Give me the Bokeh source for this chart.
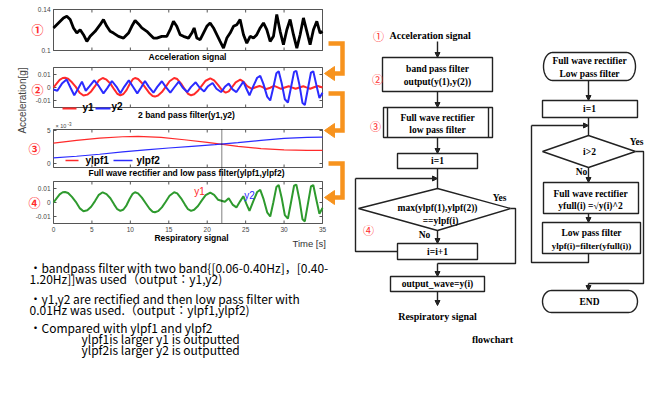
import numpy as np
from bokeh.plotting import figure
from bokeh.models import Range1d, Arrow, NormalHead
from bokeh.core.properties import value
from bokeh.embed import file_html
from bokeh.resources import INLINE

# ---------------- data ----------------
acc_t = [0.0, 0.65, 1.30, 1.73, 2.17, 2.60, 3.04, 3.47, 3.90, 4.34, 4.77, 5.42, 6.07, 6.50, 6.94,
         7.37, 7.81, 8.46, 9.11, 9.76, 10.19, 10.62, 11.06, 11.49, 12.14, 12.58, 13.01, 13.44,
         14.09, 14.74, 15.18, 15.61, 16.04, 16.48, 16.91, 17.56, 18.0, 18.3, 18.65, 19.08, 19.51,
         19.95, 20.38, 20.82, 21.25, 21.68, 22.12, 22.55, 22.98, 23.42, 23.85, 24.28, 24.72, 25.15,
         25.59, 26.02, 26.45, 26.89, 27.32, 27.75, 28.19, 28.62, 29.05, 29.49, 29.92, 30.36, 30.79,
         31.22, 31.66, 32.09, 32.52, 32.96, 33.39, 33.82, 34.26, 34.69, 35.0]
acc_v = [0.1220, 0.1269, 0.1318, 0.1334, 0.1302, 0.1220, 0.1170, 0.1203, 0.1154, 0.1089, 0.1138,
         0.1187, 0.1252, 0.1302, 0.1236, 0.1187, 0.1170, 0.1138, 0.1121, 0.1170, 0.1236, 0.1292,
         0.1259, 0.1220, 0.1187, 0.1154, 0.1121, 0.1121, 0.1138, 0.1138, 0.1203, 0.1285, 0.1236,
         0.1154, 0.1138, 0.1121, 0.1170, 0.1220, 0.1121, 0.1105, 0.1170, 0.1236, 0.1269, 0.1220,
         0.1154, 0.1089, 0.1023, 0.1121, 0.1170, 0.1236, 0.1252, 0.1302, 0.1154, 0.1072, 0.1138,
         0.1121, 0.1154, 0.1220, 0.1269, 0.1203, 0.1089, 0.1138, 0.1351, 0.1187, 0.1056, 0.1203,
         0.1302, 0.1154, 0.1023, 0.1154, 0.1318, 0.1187, 0.1056, 0.1203, 0.1285, 0.1170, 0.1187]

y1_t = [0.0, 0.4, 0.8, 1.2, 1.5, 1.9, 2.4, 2.9, 3.4, 3.9, 4.4, 4.9, 5.4, 5.9, 6.4, 6.9, 7.4, 7.9,
        8.3, 8.7, 9.1, 9.5, 9.9, 10.3, 10.6, 11.0, 11.5, 12.0, 12.5, 12.9, 13.2, 13.6, 14.1, 14.6,
        15.1, 15.7, 16.1, 16.6, 17.1, 17.5, 17.9, 18.3, 18.8, 19.3, 19.8, 20.4, 20.9, 21.4, 21.9,
        22.4, 22.8, 23.2, 23.7, 24.3, 24.7, 25.2, 25.8, 26.3, 26.8, 27.2, 27.7, 28.2, 28.7, 29.1,
        29.6, 30.1, 30.6, 31.0, 31.5, 32.0, 32.5, 32.9, 33.4, 33.9, 34.4, 35.0]
y1_v = [0.0, 0.0030, 0.0058, 0.0073, 0.0075, 0.0068, 0.0040, 0.0005, -0.0040, -0.0062, -0.0055,
        -0.0030, 0.0010, 0.0055, 0.0073, 0.0060, 0.0030, -0.0015, -0.0048, -0.0060, -0.0050,
        -0.0020, 0.0025, 0.0062, 0.0073, 0.0065, 0.0035, -0.0005, -0.0045, -0.0066, -0.0070,
        -0.0062, -0.0035, 0.0005, 0.0048, 0.0073, 0.0065, 0.0030, -0.0015, -0.0048, -0.0060,
        -0.0052, -0.0025, 0.0015, 0.0052, 0.0070, 0.0055, 0.0020, -0.0018, -0.0040, -0.0030,
        0.0000, 0.0040, 0.0060, 0.0045, 0.0010, -0.0010, 0.0002, 0.0012, 0.0003, -0.0012,
        -0.0002, 0.0012, 0.0003, -0.0010, 0.0000, 0.0010, 0.0001, -0.0010, 0.0000, 0.0010,
        0.0001, -0.0010, 0.0002, 0.0012, 0.0000]

y2_t = [0.0, 0.5, 1.1, 1.7, 2.2, 2.7, 3.2, 3.7, 4.2, 4.7, 5.3, 5.9, 6.5, 7.0, 7.6, 8.2, 8.7, 9.2,
        9.8, 10.3, 10.9, 11.4, 11.9, 12.4, 13.0, 13.5, 14.1, 14.6, 15.2, 15.7, 16.3, 16.8, 17.4,
        17.9, 18.5, 19.0, 19.6, 20.1, 20.7, 21.2, 21.8, 22.3, 22.8, 23.3, 23.8, 24.3, 24.7, 25.1,
        25.5, 26.0, 26.5, 26.9, 27.3, 27.8, 28.2, 28.6, 29.0, 29.3, 29.7, 30.1, 30.5, 30.9, 31.3,
        31.6, 32.0, 32.4, 32.7, 33.1, 33.5, 33.8, 34.2, 34.6, 35.0]
y2_v = [-0.0015, -0.0025, 0.0030, 0.0062, 0.0000, -0.0060, -0.0010, 0.0045, -0.0025, 0.0010,
        0.0055, 0.0010, -0.0045, -0.0005, 0.0050, 0.0005, -0.0045, 0.0005, 0.0055, 0.0010,
        -0.0045, 0.0000, 0.0050, 0.0005, -0.0040, 0.0005, 0.0048, 0.0005, -0.0040, 0.0000,
        0.0045, 0.0000, -0.0035, 0.0005, 0.0040, 0.0000, -0.0030, 0.0010, 0.0035, -0.0010,
        -0.0035, 0.0005, 0.0030, -0.0015, -0.0035, 0.0010, 0.0045, -0.0010, -0.0060, 0.0010,
        0.0075, 0.0090, 0.0030, -0.0070, -0.0100, 0.0000, 0.0110, 0.0125, 0.0030, -0.0090,
        -0.0115, 0.0000, 0.0120, 0.0128, 0.0020, -0.0120, -0.0135, -0.0010, 0.0115, 0.0125,
        0.0020, -0.0080, -0.0040]

lp1_t = [0, 3, 6, 9, 11, 14, 17, 20, 22, 24, 27, 30, 33, 35]
ylpf1 = [3.1, 3.5, 3.85, 4.05, 4.1, 3.95, 3.6, 3.2, 2.9, 2.6, 2.25, 2.05, 2.0, 2.0]       # x 10^-3
lp2_t = [0, 3, 6, 9, 12, 15, 18, 21, 24, 27, 30, 33, 35]
ylpf2 = [0.85, 1.1, 1.4, 1.75, 2.05, 2.35, 2.6, 2.85, 3.15, 3.5, 3.8, 3.95, 4.0]        # x 10^-3
t_switch = 21.9

time_ticks = [0, 5, 10, 15, 20, 25, 30, 35]
time_labels = ["0", "5", "10", "15", "20", "25", "30", "35"]
acc_ticks, acc_labels = [0.10, 0.14], ["0.1", "0.14"]
bp_ticks, bp_labels = [-0.01, 0.0, 0.01], ["-0.01", "0", "0.01"]
lp_ticks, lp_labels = [0, 5], ["0", "5"]

# respiratory signal = y1 while ylpf1 is larger, y2 afterwards
resp_t = [t for t in y1_t if t < t_switch] + [t for t in y2_t if t >= t_switch]
resp_v = [v for t, v in zip(y1_t, y1_v) if t < t_switch] + [v for t, v in zip(y2_t, y2_v) if t >= t_switch]

# ---------------- figure (page-pixel coordinates) ----------------
PW, PH = 648, 386
p = figure(width=PW, height=PH, x_range=Range1d(0, PW), y_range=Range1d(PH, 0),
           output_backend="svg", toolbar_location=None, min_border=0,
           x_axis_type=None, y_axis_type=None)
p.grid.visible = False
p.outline_line_color = None

SANS = value("Liberation Sans")
SERIF = value("Liberation Serif")
CJK = value("Noto Sans CJK JP")
ORANGE = "#f7931e"
RED = "#ff2a2a"
BLUE = "#2b2bff"


def txt(x, y, s, size="9px", font=SANS, style="normal", color="black", align="center",
        angle=0.0, xr="default", yr="default"):
    xs = x if isinstance(x, list) else [x]
    ys = y if isinstance(y, list) else [y]
    ss = s if isinstance(s, list) else [s]
    p.text(x=xs, y=ys, text=ss, text_font=font, text_font_size=size, text_font_style=style,
           text_color=color, text_align=align, text_baseline="middle", angle=angle,
           x_range_name=xr, y_range_name=yr)


def lin_range(p0, v0, p1, v1, lo, hi):
    s = (v1 - v0) / (p1 - p0)
    return Range1d(start=v0 + (lo - p0) * s, end=v0 + (hi - p0) * s)


X0, X1 = 53, 322
p.extra_x_ranges = {"t": lin_range(X0, 0, X1, 35, 0, PW)}

# name: (frame top, frame bottom, (pix, val), (pix, val), ticks, labels)
panels = {
    "a1": (9, 50, (9, 0.14), (50, 0.10), acc_ticks, acc_labels),
    "a2": (67, 107, (74, 0.01), (100, -0.01), bp_ticks, bp_labels),
    "a3": (129, 167, (130, 5.0), (163, 0.0), lp_ticks, lp_labels),
    "a4": (181, 223, (188, 0.01), (216, -0.01), bp_ticks, bp_labels),
}
p.extra_y_ranges = {k: lin_range(v[2][0], v[2][1], v[3][0], v[3][1], PH, 0) for k, v in panels.items()}

AX = "#555555"
for name, (top, bot, _a, _b, ticks, labels) in panels.items():
    p.quad(left=[X0], right=[X1], top=[top], bottom=[bot], fill_color=None, line_color=AX, line_width=1)
    p.segment(x0=[X0] * len(ticks), x1=[X0 + 3] * len(ticks), y0=ticks, y1=ticks,
              line_color=AX, y_range_name=name)
    p.segment(x0=[X1 - 3] * len(ticks), x1=[X1] * len(ticks), y0=ticks, y1=ticks,
              line_color=AX, y_range_name=name)
    txt([X0 - 3] * len(ticks), ticks, labels, size="6.5px", color="#444444", align="right", yr=name)
    p.segment(x0=time_ticks, x1=time_ticks, y0=[bot] * len(time_ticks), y1=[bot - 3] * len(time_ticks),
              line_color=AX, x_range_name="t")
    p.segment(x0=time_ticks, x1=time_ticks, y0=[top] * len(time_ticks), y1=[top + 3] * len(time_ticks),
              line_color=AX, x_range_name="t")

# signals
p.line(acc_t, acc_v, line_color="black", line_width=2.8, x_range_name="t", y_range_name="a1")
p.line(y1_t, y1_v, line_color=RED, line_width=2, x_range_name="t", y_range_name="a2")
p.line(y2_t, y2_v, line_color=BLUE, line_width=2, x_range_name="t", y_range_name="a2")
p.line(lp1_t, ylpf1, line_color=RED, line_width=1.2, x_range_name="t", y_range_name="a3")
p.line(lp2_t, ylpf2, line_color=BLUE, line_width=1.2, x_range_name="t", y_range_name="a3")
p.line(resp_t, resp_v, line_color="#2e9a2e", line_width=2, x_range_name="t", y_range_name="a4")
p.segment(x0=[t_switch], x1=[t_switch], y0=[129], y1=[223], line_color="black", line_width=1,
          line_dash="1 1", x_range_name="t")

# x tick labels of the bottom panel
txt(time_ticks, [228.5] * len(time_ticks), time_labels, size="6.5px", color="#444444", xr="t")

# panel titles / legends
txt(187, 56, "Acceleration signal", size="8.5px", style="bold")
p.line([62, 76], [108, 108], line_color=RED, line_width=2)
txt(82, 107, "y1", size="10px", style="bold", align="left")
p.line([95, 110], [108, 108], line_color=BLUE, line_width=2)
txt(111, 106, "y2", size="10px", style="bold", align="left")
txt(186, 114, "2 band pass filter(y1,y2)", size="8.5px", style="bold")
p.line([65, 78], [160, 160], line_color=RED, line_width=1.5)
txt(85, 160, "ylpf1", size="10px", style="bold", align="left")
p.line([113, 132], [160, 160], line_color=BLUE, line_width=1.5)
txt(136, 160, "ylpf2", size="10px", style="bold", align="left")
txt(186, 172, "Full wave rectifier and low pass filter(ylpf1,ylpf2)", size="8.5px", style="bold")
txt(55, 125, "× 10", size="5.5px", color="#444444", align="left")
txt(67, 123, "-3", size="4.5px", color="#444444", align="left")
txt(199, 191, "y1", size="10px", color=RED, align="center")
txt(249, 195, "y2", size="10px", color=BLUE, align="center")
txt(191, 237, "Respiratory signal", size="8.5px", style="bold")
txt(310, 243, "Time  [s]", size="9.5px", color="#333333")
txt(22, 100, "Acceleration[g]", size="10px", color="#444444", angle=np.pi / 2)

# circled numbers next to panels
txt([37, 37, 34, 34], [29, 89, 148, 202], ["①", "②", "③", "④"], size="12px", font=CJK,
    style="bold", color=RED)

# orange bracket arrows
for top_y, arr_y in [(43, 73), (93, 130), (163, 197)]:
    p.line([328, 342, 342, 333], [top_y, top_y, arr_y, arr_y], line_color=ORANGE, line_width=4.5,
           line_join="miter")
    p.patch([324, 334, 334], [arr_y, arr_y - 7, arr_y + 7], fill_color=ORANGE, line_color=ORANGE)

# bullet text
B = "12px"
txt(29, 267, "・bandpass filter with two band{[0.06-0.40Hz]，[0.40-", size=B, font=CJK, align="left")
txt(29, 278, "1.20Hz]]was used（output：y1,y2)", size=B, font=CJK, align="left")
txt(29, 298, "・y1,y2 are rectified and then low pass filter with", size=B, font=CJK, align="left")
txt(29, 309, "0.01Hz  was used.（output：ylpf1,ylpf2)", size=B, font=CJK, align="left")
txt(29, 327, "・Compared with ylpf1 and ylpf2", size=B, font=CJK, align="left")
txt(81, 338, "ylpf1is larger y1 is outputted", size=B, font=CJK, align="left")
txt(81, 349, "ylpf2is larger y2 is outputted", size=B, font=CJK, align="left")


# ---------------- flowcharts ----------------
def box(l, r, t, b, lw=1.4):
    p.quad(left=[l], right=[r], top=[t], bottom=[b], fill_color="white", line_color="#222222",
           line_width=lw)


def arrow(x0, y0, x1, y1):
    p.add_layout(Arrow(end=NormalHead(size=5, fill_color="#222222", line_color="#222222"),
                       x_start=x0, y_start=y0, x_end=x1, y_end=y1, line_color="#222222",
                       line_width=1.4))


def poly(xs, ys):
    p.line(xs, ys, line_color="#222222", line_width=1.4)


def terminal(l, r, t, b):
    cy, ry, rx = (t + b) / 2, (b - t) / 2, 9
    a = np.linspace(-np.pi / 2, np.pi / 2, 24)
    xs = list(r - rx + rx * np.cos(a)) + list(l + rx - rx * np.cos(a[::-1]))
    ys = list(cy + ry * np.sin(a)) + list(cy + ry * np.sin(a[::-1]))
    p.patch(xs, ys, fill_color="white", line_color="#222222", line_width=1.4)


FS = "9.5px"
# middle flowchart
txt(378, 35, "①", size="11px", font=CJK, color=RED)
txt(389, 35, "Acceleration signal", size="10px", font=SERIF, style="bold", align="left")
arrow(437, 41, 437, 57)
box(382, 492, 57, 91)
txt(437, 68, "band pass filter", size=FS, font=SERIF, style="bold")
txt(437, 81, "output(y(1),y(2))", size=FS, font=SERIF, style="bold")
txt(377, 78, "②", size="11px", font=CJK, color=RED)
arrow(437, 91, 437, 107)
box(383, 492, 107, 137)
poly([387, 387], [107, 137])
poly([488, 488], [107, 137])
txt(437, 117, "Full wave rectifier", size=FS, font=SERIF, style="bold")
txt(437, 129, "low pass filter", size=FS, font=SERIF, style="bold")
txt(375, 125, "③", size="11px", font=CJK, color=RED)
arrow(437, 137, 437, 153)
box(397, 477, 153, 168)
txt(437, 160.5, "i=1", size=FS, font=SERIF, style="bold")
poly([437, 437], [168, 188])
p.patch([437, 510, 437, 358], [188, 208, 230, 208], fill_color="white", line_color="#222222",
        line_width=1.4)
txt(437, 207, "max(ylpf(1),ylpf(2))", size=FS, font=SERIF, style="bold")
txt(440, 220, "==ylpf(i)", size=FS, font=SERIF, style="bold")
txt(499, 197, "Yes", size=FS, font=SERIF, style="bold")
txt(424, 234, "No", size=FS, font=SERIF, style="bold")
txt(368, 229, "④", size="11px", font=CJK, color=RED)
arrow(437, 230, 437, 243)
box(397, 477, 243, 259)
txt(437, 251, "i=i+1", size=FS, font=SERIF, style="bold")
poly([397, 355, 355], [251, 251, 178])
arrow(355, 178, 437, 178)
poly([510, 515, 515, 437], [208, 208, 263, 263])
arrow(437, 263, 437, 276)
box(390, 484, 276, 291)
txt(437, 283.5, "output_wave=y(i)", size=FS, font=SERIF, style="bold")
arrow(437, 291, 437, 305)
txt(437, 316, "Respiratory signal", size="10px", font=SERIF, style="bold")
txt(492, 339, "flowchart", size="10px", font=SERIF, style="bold")

# right flowchart
terminal(543, 635, 52, 80)
txt(589, 60, "Full wave rectifier", size=FS, font=SERIF, style="bold")
txt(589, 73, "Low pass filter", size=FS, font=SERIF, style="bold")
arrow(588, 80, 588, 100)
box(542, 637, 100, 117)
txt(589, 108.5, "i=1", size=FS, font=SERIF, style="bold")
poly([588, 588], [117, 135])
arrow(531, 125, 588, 125)
p.patch([588, 635, 588, 542], [135, 151, 167, 151], fill_color="white", line_color="#222222",
        line_width=1.4)
txt(589, 151, "i>2", size=FS, font=SERIF, style="bold")
txt(636, 141, "Yes", size=FS, font=SERIF, style="bold")
txt(581, 171, "No", size=FS, font=SERIF, style="bold")
arrow(588, 167, 588, 182)
box(543, 638, 182, 213)
txt(590, 193, "Full wave rectifier", size=FS, font=SERIF, style="bold")
txt(590, 205, "yfull(i) =√y(i)^2", size=FS, font=SERIF, style="bold")
arrow(588, 213, 588, 222)
box(542, 640, 222, 253)
txt(591, 232, "Low pass filter", size=FS, font=SERIF, style="bold")
txt(591, 245, "ylpf(i)=filter(yfull(i))", size="9px", font=SERIF, style="bold")
poly([588, 588, 531, 531], [253, 262, 262, 125])
poly([635, 643, 643, 588], [151, 151, 283, 283])
arrow(588, 283, 588, 290)
terminal(542, 637, 290, 312)
txt(589, 301, "END", size=FS, font=SERIF, style="bold")

open("out.html", "w").write(file_html(p, INLINE))
